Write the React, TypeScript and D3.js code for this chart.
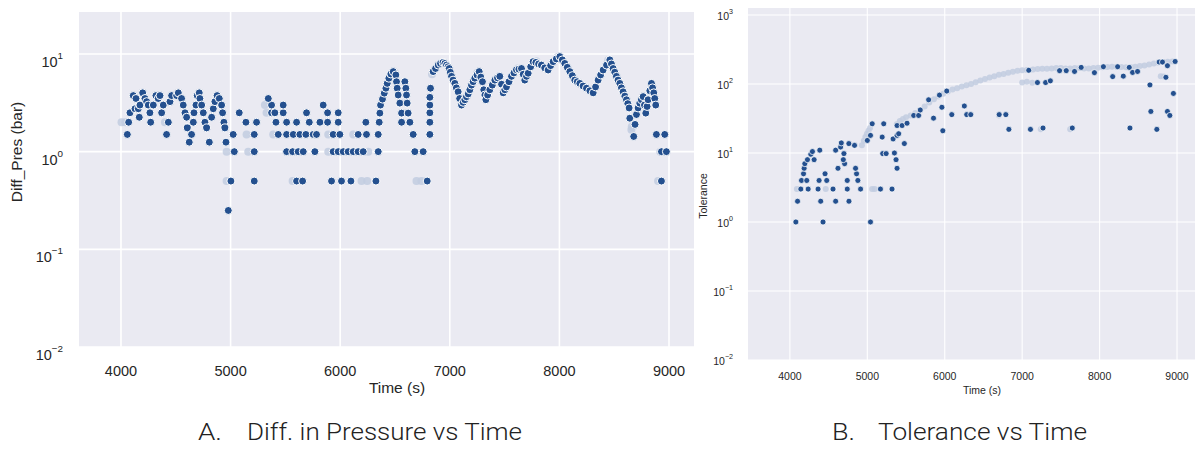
import React from 'react';
import * as d3 from 'd3';

const timeTicks = [4000, 5000, 6000, 7000, 8000, 9000];
const presExponents = [-2, -1, 0, 1];
const tolExponents = [-2, -1, 0, 1, 2, 3];

// chart A: Diff_Pres (bar) against time (s), dark dots
const pressureDots: [number, number][] = [
  [4070, 2], [4058, 1.5], [4082, 2.5], [4112, 3.75], [4137, 3.5], [4128, 2.75], [4158, 2.75], [4167, 2.25],
  [4173, 3], [4198, 4], [4219, 3.5], [4234, 3.25], [4249, 3], [4264, 2.5], [4271, 2], [4295, 3],
  [4319, 3.75], [4340, 3.5], [4356, 3.75], [4371, 2.5], [4386, 3], [4416, 1.5], [4432, 2], [4447, 3.25],
  [4462, 3.75], [4508, 3.75], [4523, 4], [4553, 3.5], [4568, 3], [4584, 2.5], [4599, 2.25], [4605, 1.75],
  [4623, 1.25], [4644, 1.5], [4660, 2], [4666, 2.5], [4684, 3], [4696, 3.75], [4714, 4], [4720, 3.5],
  [4736, 3], [4751, 2.5], [4766, 2], [4781, 1.75], [4806, 1.25], [4827, 2.25], [4842, 2.75], [4857, 3.25],
  [4877, 3.75], [4897, 3.5], [4918, 3], [4927, 2.5], [4939, 2], [4948, 1.75], [4958, 1.25],
  [4979, 0.25], [5003, 0.5], [5034, 1],
  [5079, 2.5], [5374, 2.5], [5404, 2.5], [5480, 2.5], [5693, 2.5], [5885, 2.5], [5982, 2.5],
  [5374, 3], [5480, 3], [5845, 3], [5344, 3.5],
  [5140, 2], [5237, 2], [5414, 2], [5511, 2], [5602, 2], [5718, 2], [5815, 2], [5885, 2], [5982, 2],
  [6234, 2], [6356, 2], [6560, 2], [6636, 2],
  [5024, 1.5], [5216, 1.5], [5435, 1.5], [5511, 1.5], [5572, 1.5], [5632, 1.5], [5687, 1.5], [5754, 1.5],
  [5784, 1.5], [5936, 1.5], [5997, 1.5], [6164, 1.5], [6240, 1.5], [6347, 1.5], [6666, 1.5],
  [5216, 1], [5511, 1], [5566, 1], [5617, 1], [5663, 1], [5769, 1], [5936, 1], [5982, 1], [6028, 1],
  [6073, 1], [6119, 1], [6164, 1], [6210, 1], [6347, 1], [6681, 1], [6757, 1],
  [5216, 0.5], [5602, 0.5], [5657, 0.5], [5921, 0.5], [6012, 0.5], [6098, 0.5], [6326, 0.5], [6794, 0.5],
  [6362, 2.48], [6368, 3], [6386, 3.45], [6402, 3.97], [6417, 4.46], [6429, 5], [6444, 5.65], [6462, 6.24],
  [6484, 6.6], [6508, 6.1], [6514, 5.2], [6520, 4.46], [6529, 3.8], [6544, 3.14], [6560, 2.48],
  [6590, 5.2], [6599, 4.46], [6605, 3.8], [6611, 3.14], [6620, 2.48],
  [6818, 1.5], [6818, 2], [6818, 2.5], [6818, 3], [6818, 3.6], [6824, 4.46],
  [6848, 6.6], [6870, 7.1], [6894, 7.7], [6915, 8], [6939, 8.15], [6955, 8], [6970, 7.7], [6985, 7.4],
  [6995, 7.1], [7005, 6.5], [7016, 5.9], [7030, 5.4], [7046, 5], [7060, 4.5], [7076, 4.1], [7090, 3.5],
  [7107, 3], [7122, 3.2], [7137, 3.4], [7152, 3.65], [7168, 3.9], [7183, 4.3], [7198, 4.8], [7213, 5.2],
  [7228, 5.65], [7248, 6.1], [7268, 6.6], [7283, 5.8], [7298, 5.2], [7310, 4.3], [7320, 3.8], [7329, 3.4],
  [7345, 3.8], [7365, 4.3], [7388, 4.8], [7411, 5.4], [7435, 5.7], [7456, 5.9], [7472, 4.9], [7487, 4],
  [7502, 4.3], [7517, 4.6], [7540, 5.2], [7563, 5.9], [7585, 6.4], [7608, 6.9], [7630, 7], [7654, 7.1],
  [7670, 6.2], [7684, 5.4], [7700, 5.9], [7715, 6.35], [7738, 7.4], [7760, 8.35], [7785, 8.2], [7810, 7.9],
  [7836, 7.7], [7866, 7.2], [7897, 6.85], [7920, 7.6], [7943, 8.35], [7972, 8.9], [8004, 9.4], [8027, 8.7],
  [8049, 8], [8072, 7.3], [8095, 6.6], [8118, 6], [8140, 5.4], [8163, 5.2], [8186, 5], [8216, 4.7],
  [8247, 4.46], [8278, 4.2], [8308, 4], [8330, 4.6], [8353, 5.4], [8376, 6.1], [8399, 6.85], [8430, 7.7],
  [8460, 8.7], [8475, 7.9], [8490, 7.1], [8505, 6.5], [8520, 5.9], [8535, 5.4], [8551, 5], [8566, 4.5],
  [8581, 4.1], [8597, 3.7], [8612, 3.4], [8624, 3.1], [8636, 2.8], [8642, 2.2], [8678, 1.43], [8690, 1.9],
  [8703, 2.4], [8718, 2.8], [8733, 3.14], [8748, 3.4], [8764, 3.66], [8776, 3], [8788, 2.48], [8800, 2.9],
  [8809, 3.4], [8825, 4.2], [8840, 5], [8850, 4.5], [8861, 4], [8870, 3.5], [8879, 3],
  [8885, 1.5], [8961, 1.5], [8931, 1], [8976, 1], [8931, 0.5],
];

// chart A: blurred / faded dots
const pressureGhosts: [number, number][] = [
  [4005, 2], [4040, 2], [4401, 2], [4964, 1], [4964, 0.5], [5161, 1], [5146, 1.5], [5313, 3], [5328, 2.5],
  [5389, 1.5], [5566, 0.5], [5891, 1.5], [5891, 1], [6119, 1.5], [6195, 0.5], [6247, 0.5], [6256, 1],
  [6696, 0.5], [6742, 0.5], [6838, 6.2], [6500, 6.4], [7250, 6.4], [7620, 7.1], [7790, 8.4], [7985, 9.3],
  [8445, 8.6], [8657, 1.68], [8660, 1.8], [8900, 0.5], [8920, 1],
];

// chart B: Tolerance against time (s), dark dots
const toleranceDots: [number, number][] = [
  [4077, 1], [4428, 1], [5041, 1],
  [4099, 2], [4398, 2], [4591, 2], [4763, 2],
  [4141, 3], [4236, 3], [4364, 3], [4557, 3], [4741, 3], [4913, 3], [5170, 3], [5319, 3],
  [4150, 4], [4218, 4], [4377, 4], [4476, 4], [4741, 4], [4878, 4],
  [4176, 5], [4454, 5], [4861, 5],
  [4184, 6], [4621, 6], [4848, 6],
  [4193, 7], [4707, 7],
  [4227, 8], [4313, 8], [4690, 8],
  [4270, 9.6], [4291, 10.5], [4386, 11], [4591, 11], [4655, 12.2], [4698, 9.8], [4762, 13.7], [4835, 12.9],
  [4664, 14],
  [5000, 15.2], [5041, 18], [5063, 26.5], [5192, 17], [5212, 26.5], [5199, 9.8], [5243, 9.8], [5350, 10],
  [5333, 16], [5384, 18], [5405, 19], [5384, 25], [5371, 8], [5384, 6],
  [5449, 25], [5513, 27], [5478, 13.7], [5599, 35], [5663, 35], [5684, 42], [5792, 59], [5855, 32],
  [5932, 69], [5963, 46], [5975, 21], [6026, 79], [6091, 36], [6253, 48], [6284, 36], [6336, 36],
  [6703, 36], [6789, 36], [6828, 22], [7107, 22], [7269, 23], [7647, 23], [8392, 23], [8739, 22],
  [8662, 40], [8876, 40], [8907, 35], [8953, 73], [8650, 97], [8856, 125],
  [7197, 105], [7303, 105], [7364, 111],
  [7085, 158], [7483, 156], [7569, 156], [7676, 152], [7762, 174], [7933, 146], [8049, 178], [8169, 128],
  [8233, 178], [8306, 130], [8383, 174], [8426, 147], [8490, 152], [8769, 208], [8812, 208], [8876, 184],
  [8975, 212],
];

// chart B: blurred / faded dots along the upper trend
const toleranceGhosts: [number, number][] = [
  [4090, 3], [4463, 3], [5062, 3], [5095, 3],
  [4930, 13], [4955, 15], [4975, 17], [4995, 19], [5015, 21], [5035, 23],
  [5380, 26], [5420, 29], [5460, 31], [5500, 33], [5560, 35], [5620, 38], [5680, 42], [5740, 47],
  [5800, 54], [5860, 60], [5920, 66], [5980, 72], [6040, 78], [6100, 83], [6160, 87], [6220, 92],
  [6280, 96], [6340, 100], [6400, 106], [6460, 112], [6520, 118], [6580, 124], [6640, 130], [6700, 136],
  [6760, 140], [6820, 146], [6880, 150], [6940, 155], [7000, 158], [7060, 160], [7140, 162], [7200, 165],
  [7260, 166], [7320, 167], [7380, 168], [7440, 170], [7500, 170], [7560, 168], [7620, 168], [7680, 170],
  [7740, 170], [7800, 168], [7860, 168], [7920, 170], [7980, 172], [8040, 175], [8100, 176], [8160, 178],
  [8220, 178], [8280, 176], [8340, 175], [8400, 176], [8460, 178], [8520, 182], [8580, 186], [8640, 192],
  [8700, 198], [8760, 204], [8820, 208], [8880, 210], [8940, 212],
  [7000, 105], [7060, 108], [7130, 104], [6700, 35], [7240, 22], [7620, 22], [8790, 130], [8830, 128],
];

const dotBlue = '#24508f';
const ghostBlue = '#c2cde1';
const panelBg = '#eaeaf2';
const sans = '"Liberation Sans", Arial, sans-serif';

type PanelProps = {
  box: { left: number; right: number; top: number; bottom: number };
  tDomain: [number, number];
  vDomain: [number, number];
  exponents: number[];
  dots: [number, number][];
  ghosts: [number, number][];
  r: number;
  gridW: number;
  tickSize: number;
  labelSize: number;
  yLabel: string;
  yLabelPos: [number, number];
  xLabelPos: [number, number];
  xTickY: number;
  yTickX: number;
  baseOff: number;
  supOff: number;
};

function Panel(p: PanelProps) {
  const { box } = p;
  const x = d3.scaleLinear().domain(p.tDomain).range([box.left, box.right]);
  const y = d3.scaleLog().domain(p.vDomain).range([box.bottom, box.top]);
  return (
    <g>
      <rect x={box.left} y={box.top} width={box.right - box.left} height={box.bottom - box.top} fill={panelBg} />
      {timeTicks.map(t => (
        <line key={'gx' + t} x1={x(t)} x2={x(t)} y1={box.top} y2={box.bottom} stroke="#fff" strokeWidth={p.gridW} />
      ))}
      {p.exponents.map(e => (
        <line key={'gy' + e} x1={box.left} x2={box.right} y1={y(Math.pow(10, e))} y2={y(Math.pow(10, e))} stroke="#fff" strokeWidth={p.gridW} />
      ))}
      {p.ghosts.map((d, i) => (
        <circle key={'g' + i} cx={x(d[0])} cy={y(d[1])} r={p.r} fill={ghostBlue} fillOpacity={0.85} />
      ))}
      {p.dots.map((d, i) => (
        <circle key={'d' + i} cx={x(d[0])} cy={y(d[1])} r={p.r} fill={dotBlue} stroke="#fff" strokeWidth={p.r * 0.25} />
      ))}
      {timeTicks.map(t => (
        <text key={'tx' + t} x={x(t)} y={p.xTickY} textAnchor="middle" fontSize={p.tickSize} fill="#262626" fontFamily={sans}>{t}</text>
      ))}
      {p.exponents.map(e => (
        <text key={'ty' + e} x={p.yTickX} y={y(Math.pow(10, e)) + p.baseOff} textAnchor="end" fontSize={p.tickSize} fill="#262626" fontFamily={sans}>
          10<tspan dy={p.supOff - p.baseOff} fontSize={p.tickSize * 0.68}>{e < 0 ? '\u2212' + Math.abs(e) : e}</tspan>
        </text>
      ))}
      <text x={p.xLabelPos[0]} y={p.xLabelPos[1]} textAnchor="middle" fontSize={p.labelSize} fill="#262626" fontFamily={sans}>Time (s)</text>
      <text transform={`translate(${p.yLabelPos[0]},${p.yLabelPos[1]}) rotate(-90)`} textAnchor="middle" fontSize={p.labelSize} fill="#262626" fontFamily={sans}>{p.yLabel}</text>
    </g>
  );
}

export default function App() {
  const capFont = 'Roboto, "Liberation Sans", Arial, sans-serif';
  return (
    <svg width={1199} height={449} style={{ position: 'absolute', left: 0, top: 0, background: '#fff' }}>
      <Panel
        box={{ left: 79, right: 694, top: 12, bottom: 347 }}
        tDomain={[3617, 9228]}
        vDomain={[0.01, 26.9]}
        exponents={presExponents}
        dots={pressureDots}
        ghosts={pressureGhosts}
        r={4}
        gridW={1.6}
        tickSize={14.5}
        labelSize={15.5}
        yLabel="Diff_Pres (bar)"
        yLabelPos={[22, 152]}
        xLabelPos={[397, 393]}
        xTickY={376}
        yTickX={63}
        baseOff={13}
        supOff={5}
      />
      <Panel
        box={{ left: 748, right: 1195, top: 8, bottom: 360 }}
        tDomain={[3459, 9232]}
        vDomain={[0.01, 1263]}
        exponents={tolExponents}
        dots={toleranceDots}
        ghosts={toleranceGhosts}
        r={3}
        gridW={1.1}
        tickSize={10.5}
        labelSize={10.5}
        yLabel="Tolerance"
        yLabelPos={[707, 196]}
        xLabelPos={[982, 394]}
        xTickY={380}
        yTickX={733}
        baseOff={5}
        supOff={-1}
      />
      <text x={198} y={440} fontSize={23} fontWeight={300} fill="#222" fontFamily={capFont} textLength={24} lengthAdjust="spacingAndGlyphs">A.</text>
      <text x={247} y={440} fontSize={23} fontWeight={300} fill="#222" fontFamily={capFont} textLength={275} lengthAdjust="spacingAndGlyphs">Diff. in Pressure vs Time</text>
      <text x={832} y={440} fontSize={23} fontWeight={300} fill="#222" fontFamily={capFont} textLength={23} lengthAdjust="spacingAndGlyphs">B.</text>
      <text x={878} y={440} fontSize={23} fontWeight={300} fill="#222" fontFamily={capFont} textLength={209} lengthAdjust="spacingAndGlyphs">Tolerance vs Time</text>
    </svg>
  );
}
